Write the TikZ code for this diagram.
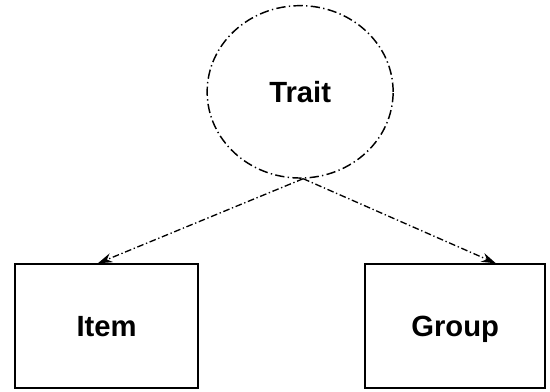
\documentclass[tikz,border=0pt]{standalone}
\usepackage{fontspec}
\setsansfont{Liberation Sans}
\usepackage{tikz}
\usetikzlibrary{positioning}
\usetikzlibrary{arrows.meta}
\usetikzlibrary{shapes.geometric}

\tikzset{
  latent/.style={draw, ellipse, line width=1.1pt, dash pattern=on 7pt off 2.5pt on 1pt off 2.5pt,
    minimum width=4.92cm, minimum height=4.56cm, inner sep=0pt},
  observed/.style={draw, rectangle, line width=1.3pt, minimum width=4.84cm, minimum height=3.28cm, inner sep=0pt},
  path/.style={line width=1pt, dash pattern=on 5pt off 2pt on 1pt off 2pt, -{Stealth[length=11pt,width=7pt]}},
  lbl/.style={font=\sffamily\bfseries\fontsize{22}{24}\selectfont, text height=15.8pt, text depth=0pt}
}

\begin{document}
\begin{tikzpicture}
\useasboundingbox (0,0) rectangle (14.55,10.37);

% the trait
\node[latent, lbl] (trait) at (7.94,7.94) {Trait};

% the two observed boxes
\node[observed, lbl] (item) at (2.82,1.74) {Item};
\node[observed, lbl, minimum width=4.76cm] (group) at (12.04,1.74) {Group};

% paths out of the trait
\draw[path] (trait.-88) -- (item.98);
\draw[path] (trait.-88) -- (group.57);

\end{tikzpicture}
\end{document}
